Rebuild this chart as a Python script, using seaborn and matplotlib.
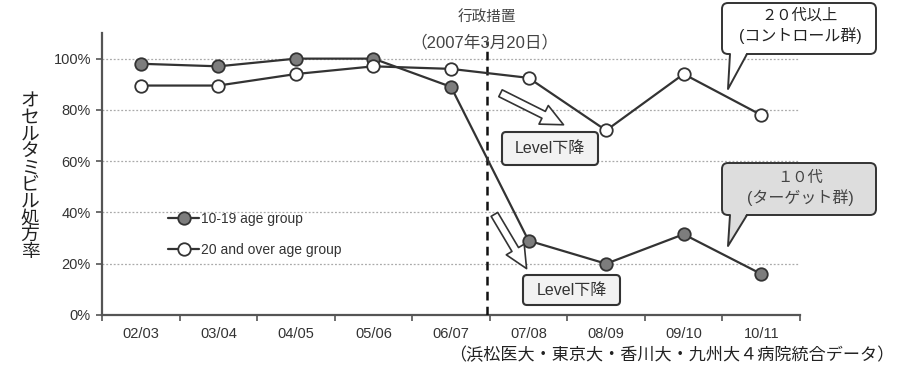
import numpy as np
import pandas as pd
import matplotlib
matplotlib.use("Agg")
import matplotlib.pyplot as plt
import matplotlib.transforms as mtransforms
from matplotlib.patches import FancyBboxPatch, Polygon, FancyArrowPatch
from matplotlib.lines import Line2D
import seaborn as sns

# ---- data ----
periods = ["02/03", "03/04", "04/05", "05/06", "06/07", "07/08", "08/09", "09/10", "10/11"]
teen_rates = [98, 97, 100, 100, 89, 29, 20, 31.5, 16]
adult_rates = [89.5, 89.5, 94, 97, 96, 92.5, 72, 94, 78]
teen_label = "10-19 age group"
adult_label = "20 and over age group"
y_ticks = [0, 20, 40, 60, 80, 100]
y_tick_labels = ["0%", "20%", "40%", "60%", "80%", "100%"]
y_label = "オセルタミビル処方率"
policy_label = "行政措置\n（2007年3月20日）"
control_label = "２０代以上\n(コントロール群)"
target_label = "１０代\n(ターゲット群)"
level_label = "Level下降"
source_label = "（浜松医大・東京大・香川大・九州大４病院統合データ）"
policy_pos = 4.46

df = pd.DataFrame({
    "period": periods * 2,
    "rate": teen_rates + adult_rates,
    "group": [teen_label] * len(periods) + [adult_label] * len(periods),
})

sns.set_theme(style="white")
plt.rcParams["font.family"] = ["Liberation Sans", "Noto Sans CJK JP", "DejaVu Sans"]

W, H = 898, 366
fig = plt.figure(figsize=(W / 100, H / 100), dpi=100)
ax = fig.add_axes([102 / W, (H - 315) / H, 698 / W, 282 / H])

dark = "#333333"
sns.lineplot(data=df[df.group == teen_label], x="period", y="rate", sort=False,
             color=dark, linewidth=1.6, marker="o", markersize=9,
             markerfacecolor="#7d7d7d", markeredgecolor=dark, markeredgewidth=1.3,
             label=teen_label, ax=ax, zorder=5)
sns.lineplot(data=df[df.group == adult_label], x="period", y="rate", sort=False,
             color=dark, linewidth=1.6, marker="o", markersize=9,
             markerfacecolor="white", markeredgecolor=dark, markeredgewidth=1.3,
             label=adult_label, ax=ax, zorder=5)

ax.set_xlim(-0.5, len(periods) - 0.5)
ax.set_ylim(0, 110)
ax.set_yticks(y_ticks)
ax.set_yticklabels(y_tick_labels, fontsize=10.5, color=dark)
ax.set_xticks(range(len(periods)))
ax.set_xticklabels(periods, fontsize=10.5, color=dark)
ax.set_xticks(np.arange(-0.5, len(periods), 1), minor=True)
ax.tick_params(axis="x", which="major", length=0, pad=9)
ax.tick_params(axis="x", which="minor", length=4, width=1.2, color="#555555", direction="out", bottom=True)
ax.tick_params(axis="y", which="major", length=4, width=1.2, color="#555555", direction="out", left=True, pad=4)
ax.set_xlabel("")
ax.set_ylabel("")
for s in ["top", "right"]:
    ax.spines[s].set_visible(False)
for s in ["left", "bottom"]:
    ax.spines[s].set_color("#555555")
    ax.spines[s].set_linewidth(1.6)
for yv in y_ticks[1:]:
    ax.axhline(yv, color="#aaaaaa", linestyle=(0, (1.5, 1.5)), linewidth=0.9, zorder=1)

ax.axvline(policy_pos, ymin=0, ymax=107 / 110, color="#111111", linestyle=(0, (3.5, 2.5)), linewidth=1.8, zorder=3)

ax.legend(loc="upper left", bbox_to_anchor=(0.085, 0.39), frameon=False, fontsize=10,
          handlelength=2.2, handletextpad=0.15, labelspacing=1.25, borderpad=0,
          labelcolor=dark)

# pixel transform matching reference coordinates
pix = mtransforms.Affine2D().scale(1 / 100, -1 / 100).translate(0, H / 100) + fig.dpi_scale_trans

fig.text(30 / W, 1 - 177 / H, "\n".join(y_label), fontsize=13.5, color="#222222",
         ha="center", va="center", linespacing=0.98)

fig.text(487 / W, 1 - 18 / H, policy_label.split("\n")[0], fontsize=10.5, color="#444444",
         ha="center", va="center")
fig.text(484 / W, 1 - 42 / H, policy_label.split("\n")[1], fontsize=12, color="#444444",
         ha="center", va="center")

fig.text(894 / W, 1 - 355 / H, source_label, fontsize=12.3, color="#222222", ha="right", va="center")


def callout(x0, y0, x1, y1, tail, fc):
    box = FancyBboxPatch((x0, y0), x1 - x0, y1 - y0, boxstyle="round,pad=0,rounding_size=6",
                         fc=fc, ec="#333333", lw=1.4, transform=pix, zorder=10)
    fig.add_artist(box)
    bl, br, tip = tail
    fill = Polygon([(bl[0], bl[1] - 2), tip, (br[0], br[1] - 2)], closed=True, fc=fc, ec="none",
                   transform=pix, zorder=11)
    fig.add_artist(fill)
    fig.add_artist(Line2D([bl[0], tip[0], br[0]], [bl[1], tip[1], br[1]], color="#333333", lw=1.4,
                          transform=pix, zorder=12))


callout(722, 3, 876, 54, ((730, 54), (747, 54), (728, 89)), "white")
callout(722, 163, 876, 215, ((730, 215), (747, 215), (728, 246)), "#dddddd")
fig.text(800 / W, 1 - 16 / H, control_label.split("\n")[0], fontsize=11, color="#222222",
         ha="center", va="center", zorder=13)
fig.text(800 / W, 1 - 36 / H, control_label.split("\n")[1], fontsize=11.5, color="#222222",
         ha="center", va="center", zorder=13)
fig.text(800 / W, 1 - 178 / H, target_label.split("\n")[0], fontsize=11, color="#444444",
         ha="center", va="center", zorder=13)
fig.text(800 / W, 1 - 198 / H, target_label.split("\n")[1], fontsize=11.5, color="#444444",
         ha="center", va="center", zorder=13)

for (x0, y0, x1, y1) in [(502, 132, 598, 165), (523, 275, 620, 305)]:
    b = FancyBboxPatch((x0, y0), x1 - x0, y1 - y0, boxstyle="round,pad=0,rounding_size=4",
                       fc="#f2f2f2", ec="#333333", lw=1.5, transform=pix, zorder=10)
    fig.add_artist(b)
    fig.text((x0 + x1) / 2 / W, 1 - (y0 + y1) / 2 / H, level_label, fontsize=11.5, color="#333333",
             ha="center", va="center", zorder=13)

for tail, tip in [((498, 92), (566, 126)), ((493, 212), (528, 271))]:
    fig.add_artist(FancyArrowPatch(
        tail, tip, transform=pix,
        arrowstyle="simple,head_width=15,head_length=16,tail_width=5.5",
        fc="white", ec="#333333", lw=1.2, zorder=9, mutation_scale=1))

fig.savefig("out.png", dpi=100)
